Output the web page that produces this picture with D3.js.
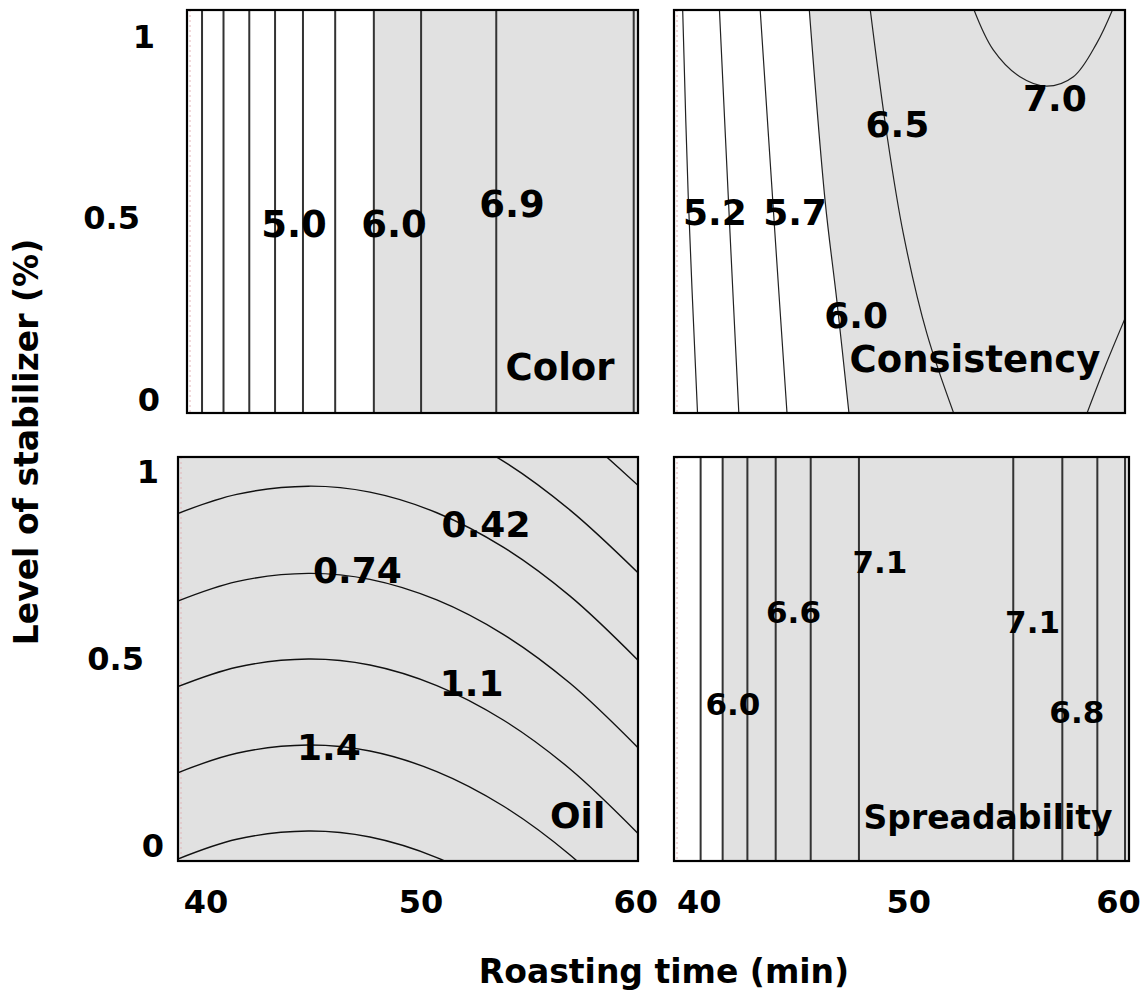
<!DOCTYPE html>
<html><head><meta charset="utf-8">
<script src="https://cdn.jsdelivr.net/npm/d3@7"></script>
<style>
body{margin:0;background:#fff}
svg{display:block}
text{font-family:"DejaVu Sans",Verdana,sans-serif;font-weight:bold;fill:#000}
</style>
</head><body>
<svg id="chart" width="1141" height="997"></svg>
<script>
// ---------- shared axis data ----------
const xTickValues = [40, 50, 60];
const xTickText = ["40", "50", "60"];
const yTickValues = [0, 0.5, 1];
const yTickText = ["0", "0.5", "1"];
const xAxisTitle = "Roasting time (min)";
const yAxisTitle = "Level of stabilizer (%)";

// ---------- Color panel (vertical contours, x = roasting time) ----------
const colorContourX = [39.8, 40.8, 42.0, 43.2, 44.5, 46.0, 47.8, 50.0, 53.5, 59.9];
const colorWhiteUpTo = 47.8;
const colorLabels = [["5.0", 44.08, 0.446], ["6.0", 48.74, 0.446], ["6.9", 54.23, 0.501]];
const colorTitle = ["Color", 56.47, 0.052];

// ---------- Consistency panel (curved contours, [time, level]) ----------
const consA = [[39.21, 1.08], [39.48, 0.556], [39.93, -0.05]];
const consB = [[40.96, 1.08], [41.47, 0.457], [41.90, -0.05]];
const consC = [[42.90, 1.08], [43.61, 0.457], [44.20, -0.05]];
const consD = [[45.24, 1.08], [46.00, 0.548], [46.56, 0.272], [47.16, -0.05]];
const consE = [[48.14, 1.08], [48.94, 0.732], [49.73, 0.456], [50.85, 0.181], [52.20, -0.05]];
const consF = [[53.05, 1.08], [54.02, 0.962], [55.29, 0.888], [56.57, 0.862], [57.84, 0.888], [58.95, 0.980], [59.76, 1.08]];
const consG = [[60.40, 0.235], [59.35, 0.089], [58.42, -0.05]];
const consWhiteEdge = consD;
const consLabels = [["5.2", 40.75, 0.479], ["5.7", 44.57, 0.479], ["6.5", 49.45, 0.722], ["7.0", 56.96, 0.794], ["6.0", 47.48, 0.195]];
const consTitle = ["Consistency", 53.15, 0.074];

// ---------- Oil panel (curved contours, [time, level]) ----------
const oilM2 = [[53.83, 1.256], [56.94, 1.125], [58.49, 1.045], [60.2, 0.956]];
const oilM1 = [[38.7, 1.118], [41.43, 1.167], [44.76, 1.189], [47.63, 1.173], [50.74, 1.118], [53.83, 1.026], [56.94, 0.895], [60.2, 0.722]];
const oil042 = [[38.6, 0.884], [41.43, 0.937], [44.76, 0.959], [47.63, 0.943], [50.74, 0.888], [53.83, 0.796], [56.94, 0.665], [60.2, 0.488]];
const oil074 = [[38.6, 0.650], [41.43, 0.704], [44.76, 0.726], [47.63, 0.710], [50.74, 0.655], [53.83, 0.563], [56.94, 0.432], [60.2, 0.254]];
const oil11 = [[38.6, 0.421], [41.43, 0.475], [44.76, 0.497], [47.63, 0.481], [50.74, 0.426], [53.83, 0.334], [56.94, 0.203], [60.2, 0.025]];
const oil14 = [[38.6, 0.191], [41.43, 0.245], [44.76, 0.267], [47.63, 0.251], [50.74, 0.196], [53.83, 0.104], [56.94, -0.027], [60.2, -0.205]];
const oilLow = [[38.6, -0.040], [41.43, 0.015], [44.76, 0.037], [47.63, 0.021], [50.74, -0.034], [53.83, -0.126]];
const oilLabels = [["0.42", 53.03, 0.824], ["0.74", 47.05, 0.699], ["1.1", 52.36, 0.398], ["1.4", 45.72, 0.227]];
const oilTitle = ["Oil", 57.29, 0.045];

// ---------- Spreadability panel (vertical contours) ----------
const spreadContourX = [40.07, 41.12, 42.30, 43.65, 45.32, 47.62, 54.98, 57.32, 58.99, 60.31];
const spreadWhiteUpTo = 41.12;
const spreadLabels = [["6.0", 41.61, 0.347], ["6.6", 44.50, 0.592], ["7.1", 48.62, 0.726], ["7.1", 55.90, 0.566], ["6.8", 58.01, 0.325]];
const spreadTitle = ["Spreadability", 53.78, 0.043];

// ---------- layout ----------
const svg = d3.select("#chart");
const GRAY = "#e1e1e1";

const panels = [
  {id: "color", left: 187, top: 10, width: 451, height: 403, xDomain: [39.1, 60.1], yDomain: [-0.039, 1.072],
   vertical: colorContourX, whiteRect: colorWhiteUpTo, labels: colorLabels, labelSize: 37, title: colorTitle, titleSize: 37,
   stroke: "#333", strokeWidth: 2, yTicks: true, tickRight: 160},
  {id: "cons", left: 674, top: 10, width: 451, height: 403, xDomain: [38.8, 60.3], yDomain: [-0.039, 1.072],
   curves: [consA, consB, consC, consD, consE, consF, consG], whiteEdge: consWhiteEdge, labels: consLabels, labelSize: 36,
   title: consTitle, titleSize: 37, stroke: "#222", strokeWidth: 1.2},
  {id: "oil", left: 178, top: 457, width: 460, height: 404, xDomain: [38.7, 60.1], yDomain: [-0.043, 1.037],
   curves: [oilM2, oilM1, oil042, oil074, oil11, oil14, oilLow], labels: oilLabels, labelSize: 36,
   title: oilTitle, titleSize: 36, stroke: "#111", strokeWidth: 1.4, xTicks: true, yTicks: true, tickRight: 164},
  {id: "spread", left: 674, top: 457, width: 455, height: 404, xDomain: [38.8, 60.5], yDomain: [-0.043, 1.037],
   vertical: spreadContourX, whiteRect: spreadWhiteUpTo, labels: spreadLabels, labelSize: 31,
   title: spreadTitle, titleSize: 33, stroke: "#333", strokeWidth: 2, xTicks: true}
];

panels.forEach(p => {
  const x = d3.scaleLinear().domain(p.xDomain).range([p.left, p.left + p.width]);
  const y = d3.scaleLinear().domain(p.yDomain).range([p.top + p.height, p.top]);
  const g = svg.append("g");
  svg.append("clipPath").attr("id", "clip-" + p.id)
    .append("rect").attr("x", p.left).attr("y", p.top).attr("width", p.width).attr("height", p.height);
  const inner = g.append("g").attr("clip-path", `url(#clip-${p.id})`);

  inner.append("rect").attr("x", p.left).attr("y", p.top).attr("width", p.width).attr("height", p.height)
    .attr("fill", GRAY);

  if (p.whiteRect !== undefined) {
    inner.append("rect").attr("x", x(p.xDomain[0])).attr("y", p.top)
      .attr("width", x(p.whiteRect) - x(p.xDomain[0])).attr("height", p.height).attr("fill", "#fff");
  }
  if (p.whiteEdge) {
    const area = d3.area().x0(() => x(p.xDomain[0]) - 5).x1(d => x(d[0])).y(d => y(d[1])).curve(d3.curveCatmullRom);
    inner.append("path").attr("d", area(p.whiteEdge)).attr("fill", "#fff");
  }

  // faint pink edge marks (as in the scanned original)
  inner.append("line").attr("x1", p.left + 3).attr("x2", p.left + 3).attr("y1", p.top).attr("y2", p.top + p.height)
    .attr("stroke", "#e4b4b8").attr("stroke-width", 1).attr("stroke-dasharray", "2,3");

  const line = d3.line().x(d => x(d[0])).y(d => y(d[1])).curve(d3.curveCatmullRom);
  const lines = [];
  if (p.vertical) p.vertical.forEach(v => lines.push([[v, p.yDomain[0] - 0.05], [v, p.yDomain[1] + 0.05]]));
  if (p.curves) p.curves.forEach(c => lines.push(c));
  inner.selectAll("path.contour").data(lines).join("path").attr("class", "contour")
    .attr("d", line).attr("fill", "none").attr("stroke", p.stroke).attr("stroke-width", p.strokeWidth);

  g.selectAll("text.lab").data(p.labels).join("text").attr("class", "lab")
    .attr("x", d => x(d[1])).attr("y", d => y(d[2])).attr("text-anchor", "middle")
    .style("font-size", p.labelSize + "px").text(d => d[0]);

  g.append("text").attr("x", x(p.title[1])).attr("y", y(p.title[2])).attr("text-anchor", "middle")
    .style("font-size", p.titleSize + "px").text(p.title[0]);

  g.append("rect").attr("x", p.left).attr("y", p.top).attr("width", p.width).attr("height", p.height)
    .attr("fill", "none").attr("stroke", "#000").attr("stroke-width", 2.2);

  if (p.xTicks) {
    g.selectAll("text.xt").data(xTickValues).join("text").attr("class", "xt")
      .attr("x", d => x(d)).attr("y", 913).attr("text-anchor", "middle")
      .style("font-size", "32px").text((d, i) => xTickText[i]);
  }
  if (p.yTicks) {
    // labels are right-aligned; the decimal label sits further left, "1" slightly left, as in the original
    g.selectAll("text.yt").data(yTickValues).join("text").attr("class", "yt")
      .attr("x", (d, i) => p.tickRight - (yTickText[i].length > 1 ? 20 : (d === 1 ? 5 : 0)))
      .attr("y", d => y(d)).attr("dy", "0.37em").attr("text-anchor", "end")
      .style("font-size", "32px").text((d, i) => yTickText[i]);
  }
});

// axis titles
svg.append("text").attr("x", 664).attr("y", 983).attr("text-anchor", "middle")
  .style("font-size", "33px").text(xAxisTitle);
svg.append("text").attr("transform", "translate(38,442) rotate(-90)").attr("text-anchor", "middle")
  .style("font-size", "33px").text(yAxisTitle);
</script>
</body></html>
